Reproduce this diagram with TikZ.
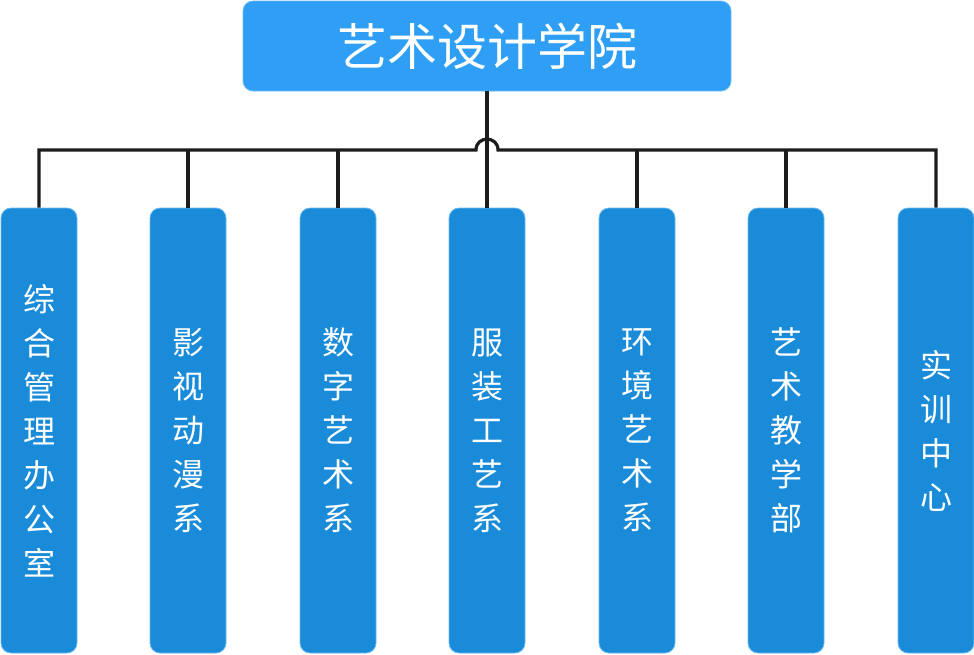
\documentclass[tikz,border=0pt]{standalone}
\usepackage{fontspec}
\setmainfont{Noto Sans CJK SC}
\definecolor{topblue}{HTML}{2E9FF5}
\definecolor{subblue}{HTML}{1A8BD9}
\definecolor{edgeblue}{HTML}{6CBBF0}
\definecolor{linec}{HTML}{1C1C1C}
\begin{document}
\begin{tikzpicture}[x=0.75pt,y=-0.75pt,
  topbox/.style={fill=topblue,draw=edgeblue,line width=0.6pt,rounded corners=7.5pt,
    minimum width=366pt,minimum height=67.5pt,inner sep=0pt,text=white,
    font=\fontsize{37.5pt}{40pt}\selectfont},
  subbox/.style={fill=subblue,draw=edgeblue,line width=0.6pt,rounded corners=7.5pt,
    minimum width=57pt,minimum height=333.75pt,inner sep=0pt,text=white,align=center,
    font=\fontsize{24pt}{33pt}\selectfont},
  conn/.style={draw=linec,line width=2.4pt}]
\useasboundingbox (0,0) rectangle (974,654);
\node[topbox] (t) at (487,46) {艺术设计学院};
\node[subbox] (c1) at (39,430.5) {综\\合\\管\\理\\办\\公\\室};
\node[subbox] (c2) at (188,430.5) {影\\视\\动\\漫\\系};
\node[subbox] (c3) at (338,430.5) {数\\字\\艺\\术\\系};
\node[subbox] (c4) at (487,430.5) {服\\装\\工\\艺\\系};
\node[subbox] (c5) at (637,430.5) {环\\境\\艺\\术\\系};
\node[subbox] (c6) at (786,430.5) {艺\\术\\教\\学\\部};
\node[subbox] (c7) at (936,430.5) {实\\训\\中\\心};
\coordinate (h) at (0,150);
\coordinate (hl) at (476,150);
\coordinate (hr) at (498,150);
\draw[conn,line join=miter] (c1.north) -- (c1.north |- h) -- (hl)
  .. controls (476,135.5) and (498,135.5) .. (hr) -- (c7.north |- h) -- (c7.north);
\foreach \n in {c2,c3,c5,c6} \draw[conn] (\n.north) -- (\n.north |- h);
\draw[conn] (t.south) -- (c4.north);
\end{tikzpicture}
\end{document}
